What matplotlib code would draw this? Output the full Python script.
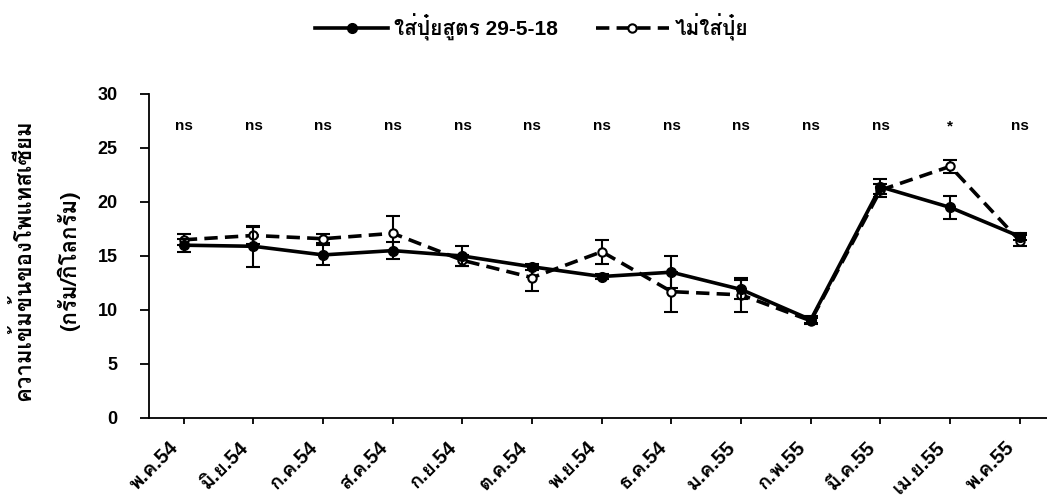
import matplotlib
matplotlib.use("Agg")
import matplotlib.pyplot as plt
import matplotlib.transforms as mtransforms
from matplotlib.lines import Line2D

months = ["พ.ค.54", "มิ.ย.54", "ก.ค.54", "ส.ค.54", "ก.ย.54", "ต.ค.54", "พ.ย.54",
          "ธ.ค.54", "ม.ค.55", "ก.พ.55", "มี.ค.55", "เม.ย.55", "พ.ค.55"]
fert = [16.0, 15.9, 15.1, 15.5, 15.0, 14.0, 13.1, 13.5, 11.9, 9.1, 21.4, 19.5, 16.8]
fert_err = [0.6, 1.9, 0.9, 0.8, 0.9, 0.3, 0.2, 1.5, 0.9, 0.3, 0.7, 1.1, 0.3]
nofert = [16.5, 16.9, 16.6, 17.1, 14.6, 13.0, 15.4, 11.7, 11.4, 9.0, 21.1, 23.3, 16.4]
nofert_err = [0.5, 0.8, 0.4, 1.6, 0.5, 1.2, 1.1, 1.85, 1.6, 0.3, 0.6, 0.6, 0.5]
signif = ["ns"] * 11 + ["*", "ns"]

# Latin glyphs from Liberation Sans, Thai glyphs fall through to Loma
plt.rcParams["font.family"] = ["Liberation Sans", "Loma", "DejaVu Sans"]
plt.rcParams["font.weight"] = "bold"
thai_only = ["Loma", "DejaVu Sans"]

fig = plt.figure(figsize=(10.47, 5), dpi=100)
ax = fig.add_axes([0.1423, 0.164, 0.8577, 0.648])

dash = (0, (3.7, 2.0))
x = list(range(len(months)))
ax.errorbar(x, nofert, yerr=nofert_err, color="black", ls=dash, lw=2.6,
            marker="o", ms=6, mfc="white", mec="black", mew=1.5,
            capsize=5, elinewidth=1.5, capthick=1.5, zorder=2)
ax.errorbar(x, fert, yerr=fert_err, color="black", ls="-", lw=2.6,
            marker="o", ms=7, mfc="black", mec="black",
            capsize=5, elinewidth=1.5, capthick=1.5, zorder=3)

for xi, s in zip(x, signif):
    ax.text(xi, 27, s, ha="center", va="center", fontsize=11, fontweight="bold")

ax.set_xlim(-0.5, 12.39)
ax.set_ylim(0, 30)
ax.set_yticks([0, 5, 10, 15, 20, 25, 30])
ax.set_xticks(x)
ax.set_xticklabels(months, rotation=45, ha="right", va="center", rotation_mode="anchor",
                   fontsize=14.5, fontweight="bold")
ax.tick_params(axis="y", labelsize=13, width=1.3, length=6.5, pad=16)
ax.tick_params(axis="x", width=1.3, length=4, pad=15)
for lab in ax.get_yticklabels():
    lab.set_fontweight("bold")
# nudge the slanted month labels a little to the left
shift = mtransforms.ScaledTranslation(-6 / 72, 0, fig.dpi_scale_trans)
for lab in ax.get_xticklabels():
    lab.set_transform(lab.get_transform() + shift)
ax.spines["top"].set_visible(False)
ax.spines["right"].set_visible(False)
ax.spines["left"].set_linewidth(1.3)
ax.spines["bottom"].set_linewidth(1.3)

fig.text(0.021, 0.48, "ความเข้มข้นของโพแทสเซียม", rotation=90, ha="center", va="center",
         fontsize=16, fontweight="bold", family=thai_only)
fig.text(0.065, 0.478, "(กรัม/กิโลกรัม)", rotation=90, ha="center", va="center",
         fontsize=16, fontweight="bold", family=thai_only)

handles = [
    Line2D([], [], color="black", ls="-", lw=2.6, marker="o", ms=7, mfc="black"),
    Line2D([], [], color="black", ls=dash, lw=2.6, marker="o", ms=6,
           mfc="white", mew=1.5),
]
fig.legend(handles, ["ใส่ปุ๋ยสูตร 29-5-18", "ไม่ใส่ปุ๋ย"], loc="center",
           bbox_to_anchor=(0.508, 0.946), ncol=2, frameon=False,
           handlelength=3.5, columnspacing=1.8, handletextpad=0.3,
           prop={"weight": "bold", "size": 15})

fig.savefig("out.png", dpi=100)
